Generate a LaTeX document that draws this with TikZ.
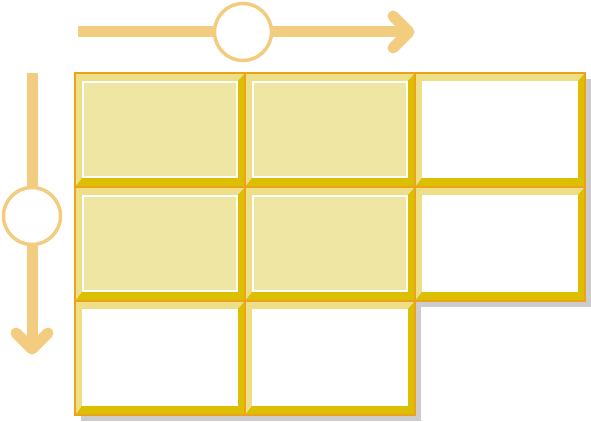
\documentclass[tikz,border=0pt]{standalone}
\definecolor{bord}{HTML}{EBA31B}
\definecolor{lite}{HTML}{EEDE86}
\definecolor{darky}{HTML}{DBBF00}
\definecolor{fillc}{HTML}{F0E6A3}
\definecolor{shad}{HTML}{CCCCCC}
\definecolor{arr}{HTML}{F2CD80}
\tikzset{
  arrowline/.style={draw=arr, line width=11pt},
  arrowhead/.style={draw=arr, line width=11pt, line cap=round, line join=round},
  knob/.style={circle, draw=arr, line width=3.5pt, fill=white, minimum size=57pt, inner sep=0pt},
}
\begin{document}
\begin{tikzpicture}[x=1pt,y=-1pt]
\useasboundingbox (0,0) rectangle (591,422);
% shadows
\foreach \c/\r in {0/0,1/0,2/0,0/1,1/1,2/1,0/2,1/2}{
  \fill[shad] ({75+170*\c+6},{73+114*\r+6}) rectangle ++(170,114);
}
% cells
\foreach \c/\r/\f in {0/0/1,1/0/1,2/0/0,0/1/1,1/1/1,2/1/0,0/2/0,1/2/0}{
  \begin{scope}[shift={({75+170*\c},{73+114*\r})}]
    \fill[lite] (0,0) -- (170,0) -- (163,8) -- (7,8) -- (7,105) -- (0,114) -- cycle;
    \fill[darky] (170,0) -- (170,114) -- (0,114) -- (7,105) -- (163,105) -- (163,8) -- cycle;
    \ifnum\f=1
      \fill[fillc] (7,8) rectangle (163,105);
      \draw[white, line width=1.5pt] (8,9) rectangle (162,104);
    \else
      \fill[white] (7,8) rectangle (163,105);
    \fi
  \end{scope}
}
\foreach \c/\r in {0/0,1/0,2/0,0/1,1/1,2/1,0/2,1/2}{
  \draw[bord, line width=1.5pt] ({75+170*\c},{73+114*\r}) rectangle ++(170,114);
}
% horizontal arrow
\coordinate (hs) at (78,32);
\coordinate (ht) at (409,32);
\draw[arrowline] (hs) -- (ht);
\draw[arrowhead] (393,16) -- (ht) -- (393,48);
\node[knob] (hc) at (243,32) {};
% vertical arrow
\coordinate (vs) at (32,73);
\coordinate (vt) at (32,349);
\draw[arrowline] (vs) -- (vt);
\draw[arrowhead] (16,333) -- (vt) -- (48,333);
\node[knob] (vc) at (32,216) {};
\end{tikzpicture}
\end{document}
